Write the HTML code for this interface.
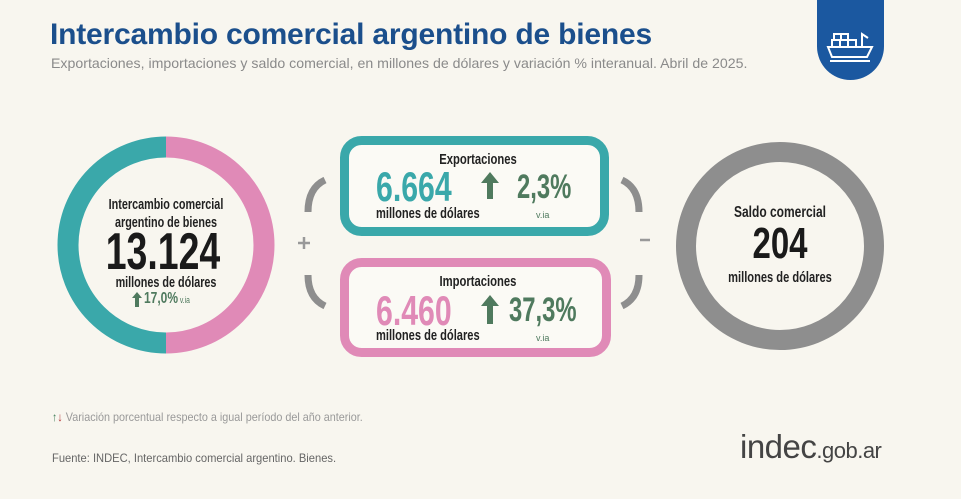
<!DOCTYPE html>
<html><head><meta charset="utf-8"><style>
body{margin:0;width:961px;height:499px;background:#f8f6ef;position:relative;overflow:hidden;font-family:"Liberation Sans",sans-serif}
.a{position:absolute;white-space:nowrap}
.L{transform-origin:0 0}
.C{width:300px;text-align:center;transform-origin:150px 0}
</style></head><body>
<div class="a" style="left:50px;top:18px;font-weight:bold;font-size:30px;color:#1b4f8c;letter-spacing:-0.2px">Intercambio comercial argentino de bienes</div>
<div class="a L" style="left:51px;top:55px;font-size:14px;color:#8a8a8a;transform:scaleX(1.01)">Exportaciones, importaciones y saldo comercial, en millones de dólares y variación % interanual. Abril de 2025.</div>
<div class="a" style="left:817px;top:0;width:67px;height:80px;background:#1b58a0;border-radius:0 0 34px 34px"></div>
<svg class="a" style="left:826px;top:30px" width="50" height="36" viewBox="0 0 50 36"><g fill="none" stroke="#fff" stroke-width="2"><rect x="8" y="4" width="7" height="6"/><rect x="15" y="4" width="7" height="6"/><rect x="6" y="10" width="8" height="7"/><rect x="14" y="10" width="8" height="7"/><rect x="22" y="10" width="8" height="7"/><path d="M2 17h44l-5 10H6z"/><path d="M36 17V4l6 4"/><path d="M4 31h40"/></g></svg>

<svg class="a" style="left:0;top:0" width="961" height="499">
<path d="M166 147 A98 98 0 0 0 166 343" fill="none" stroke="#3aa8aa" stroke-width="21"/>
<path d="M166 147 A98 98 0 0 1 166 343" fill="none" stroke="#e08ab7" stroke-width="21"/>
<circle cx="780" cy="246" r="94" fill="none" stroke="#8e8e8e" stroke-width="20"/>
<rect x="344.5" y="140.5" width="260" height="91" rx="17" fill="#fbfaf5" stroke="#3aa8aa" stroke-width="9"/>
<rect x="344.5" y="262.5" width="262" height="90" rx="17" fill="#fbfaf5" stroke="#e08ab7" stroke-width="9"/>
<g fill="none" stroke="#8e8e8e" stroke-width="7">
<path d="M325 180 Q308 188 308 212"/>
<path d="M308 275 Q308 298 325 306"/>
<path d="M622 180 Q639 188 639 212"/>
<path d="M639 275 Q639 298 622 306"/>
</g>
<path d="M298 243h12M304 237v12" stroke="#999" stroke-width="2.5"/>
<path d="M640 240h10" stroke="#999" stroke-width="2.5"/>
<g fill="#4f7a5e">
<path d="M490 172 l-9 11 h6 v16 h6 v-16 h6z"/>
<path d="M490 295 l-9 11 h6 v18 h6 v-18 h6z"/>
<path d="M137 292 l-5 6 h3 v9 h4 v-9 h3z"/>
</g>
</svg>

<div class="a C" style="left:16px;top:196px;font-size:15px;line-height:18px;color:#222;font-weight:bold;transform:scaleX(.72)">Intercambio comercial<br>argentino de bienes</div>
<div class="a C" style="left:13px;top:224px;font-size:52px;font-weight:bold;color:#1a1a1a;line-height:56px;transform:scaleX(.72)">13.124</div>
<div class="a C" style="left:16px;top:274px;font-size:15px;font-weight:bold;color:#222;transform:scaleX(.72)">millones de dólares</div>
<div class="a L" style="left:144px;top:290px;font-size:16px;font-weight:bold;color:#4f7a5e;transform:scaleX(.75)">17,0%<span style="font-size:9px;font-weight:normal"> v.ia</span></div>

<div class="a C" style="left:328px;top:151px;font-size:15px;font-weight:bold;color:#222;transform:scaleX(.75)">Exportaciones</div>
<div class="a L" style="left:376px;top:163px;font-size:42px;font-weight:bold;color:#3aa8aa;transform:scaleX(.72)">6.664</div>
<div class="a L" style="left:517px;top:168px;font-size:34px;color:#4f7a5e;font-weight:bold;transform:scaleX(.7)">2,3%</div>
<div class="a L" style="left:376px;top:205px;font-size:15px;font-weight:bold;color:#222;transform:scaleX(.74)">millones de dólares</div>
<div class="a" style="left:536px;top:210px;font-size:9px;color:#4f7a5e">v.ia</div>

<div class="a C" style="left:328px;top:273px;font-size:15px;font-weight:bold;color:#222;transform:scaleX(.75)">Importaciones</div>
<div class="a L" style="left:376px;top:287px;font-size:42px;font-weight:bold;color:#e08ab7;transform:scaleX(.72)">6.460</div>
<div class="a L" style="left:509px;top:291px;font-size:34px;color:#4f7a5e;font-weight:bold;transform:scaleX(.7)">37,3%</div>
<div class="a L" style="left:376px;top:327px;font-size:15px;font-weight:bold;color:#222;transform:scaleX(.74)">millones de dólares</div>
<div class="a" style="left:536px;top:333px;font-size:9px;color:#4f7a5e">v.ia</div>

<div class="a C" style="left:630px;top:204px;font-size:16px;font-weight:bold;color:#222;transform:scaleX(.75)">Saldo comercial</div>
<div class="a C" style="left:630px;top:220px;font-size:44px;font-weight:bold;color:#1a1a1a;line-height:48px;transform:scaleX(.75)">204</div>
<div class="a C" style="left:630px;top:269px;font-size:15px;font-weight:bold;color:#222;transform:scaleX(.74)">millones de dólares</div>

<div class="a L" style="left:52px;top:410px;font-size:12px;color:#999;transform:scaleX(.9)"><span style="color:#3c7a55;font-weight:bold">↑</span><span style="color:#b03030;font-weight:bold">↓</span> Variación porcentual respecto a igual período del año anterior.</div>
<div class="a L" style="left:52px;top:451px;font-size:12px;color:#666;transform:scaleX(.93)">Fuente: INDEC, Intercambio comercial argentino. Bienes.</div>
<div class="a" style="left:740px;top:428px;font-size:33px;color:#444;letter-spacing:-0.5px">indec<span style="font-size:22px">.gob.ar</span></div>
</body></html>
